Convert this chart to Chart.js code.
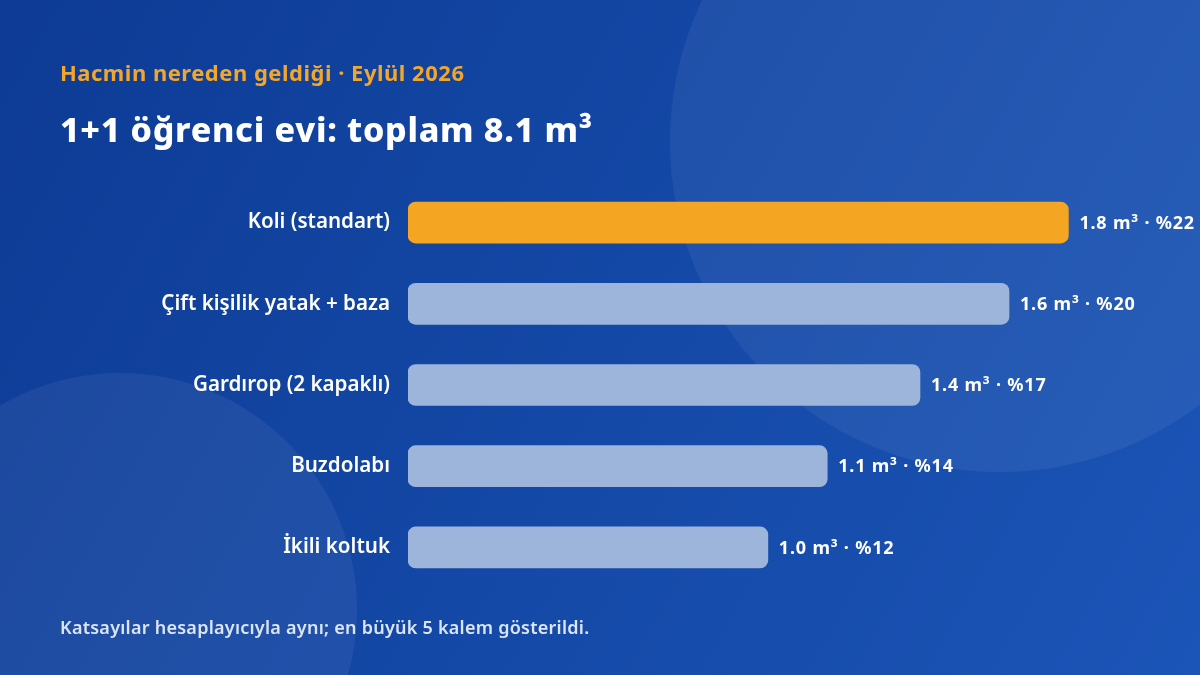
<!DOCTYPE html>
<html lang="tr">
<head>
<meta charset="utf-8">
<script src="https://cdn.jsdelivr.net/npm/chart.js@4"></script>
<style>
  html, body { margin: 0; padding: 0; }
  body { width: 1200px; height: 675px; overflow: hidden; font-family: "Noto Sans", sans-serif; }
  .wrap { position: relative; width: 1200px; height: 675px; }
  canvas { position: absolute; left: 0; top: 0; }
  .txt { position: absolute; left: 60px; white-space: nowrap; }
  #kicker { top: 57px; font-size: 22px; font-weight: 700; letter-spacing: 0.5px; color: #f2a62a; }
  #title { top: 106px; font-size: 34px; font-weight: 800; letter-spacing: 0.7px; color: #ffffff; }
  #note { top: 615px; font-size: 18px; font-weight: 600; letter-spacing: 0.25px; color: #dbe5f6; }
</style>
</head>
<body>
<div class="wrap">
  <canvas id="grafico" width="1200" height="675"></canvas>
  <div class="txt" id="kicker">Hacmin nereden geldiği · Eylül 2026</div>
  <div class="txt" id="title">1+1 öğrenci evi: toplam 8.1 m³</div>
  <div class="txt" id="note">Katsayılar hesaplayıcıyla aynı; en büyük 5 kalem gösterildi.</div>
</div>
<script>
  /* ---------- veri ---------- */
  const kalemler = ["Koli (standart)", "Çift kişilik yatak + baza", "Gardırop (2 kapaklı)", "Buzdolabı", "İkili koltuk"];
  const hacim = [1.78, 1.62, 1.38, 1.13, 0.97];
  const toplam = 8.1;

  const etiket = v => `${v.toFixed(1)} m³ · %${Math.round(v / toplam * 100)}`;

  /* ---------- arka plan ---------- */
  const arkaPlan = {
    id: "arkaPlan",
    beforeDraw(chart) {
      const c = chart.ctx;
      c.save();
      const g = c.createLinearGradient(0, 0, 1200, 675);
      g.addColorStop(0, "#0d3b95");
      g.addColorStop(1, "#1b55b7");
      c.fillStyle = g;
      c.fillRect(0, 0, 1200, 675);
      c.fillStyle = "rgba(255,255,255,0.06)";
      c.beginPath(); c.arc(1000, 142, 330, 0, Math.PI * 2); c.fill();
      c.beginPath(); c.arc(120, 610, 237, 0, Math.PI * 2); c.fill();
      c.restore();
    }
  };

  /* ---------- çubuk sonu etiketleri ---------- */
  const degerEtiketi = {
    id: "degerEtiketi",
    afterDatasetsDraw(chart) {
      const c = chart.ctx;
      const meta = chart.getDatasetMeta(0);
      c.save();
      c.font = "700 18px 'Noto Sans'";
      c.letterSpacing = "0.8px";
      c.fillStyle = "#ffffff";
      c.textAlign = "left";
      c.textBaseline = "middle";
      meta.data.forEach((bar, i) => {
        c.fillText(etiket(hacim[i]), bar.x + 11, bar.y + 1);
      });
      c.restore();
    }
  };

  new Chart(document.getElementById("grafico"), {
    type: "bar",
    data: {
      labels: kalemler,
      datasets: [{
        data: hacim,
        backgroundColor: hacim.map((v, i) => i === 0 ? "#f4a623" : "#9db5da"),
        borderRadius: 8,
        borderSkipped: false,
        barThickness: 41
      }]
    },
    options: {
      indexAxis: "y",
      responsive: false,
      animation: false,
      layout: { padding: { top: 182, bottom: 87, right: 50, left: 0 } },
      plugins: {
        legend: { display: false },
        tooltip: { enabled: false }
      },
      scales: {
        x: { display: false, min: 0, max: 2 },
        y: {
          afterFit: s => { s.width = 408; },
          grid: { display: false },
          border: { display: false },
          ticks: {
            color: "#ffffff",
            padding: 10,
            font: { family: "Noto Sans", size: 20.6, weight: "600" }
          }
        }
      }
    },
    plugins: [arkaPlan, degerEtiketi]
  });
</script>
</body>
</html>
